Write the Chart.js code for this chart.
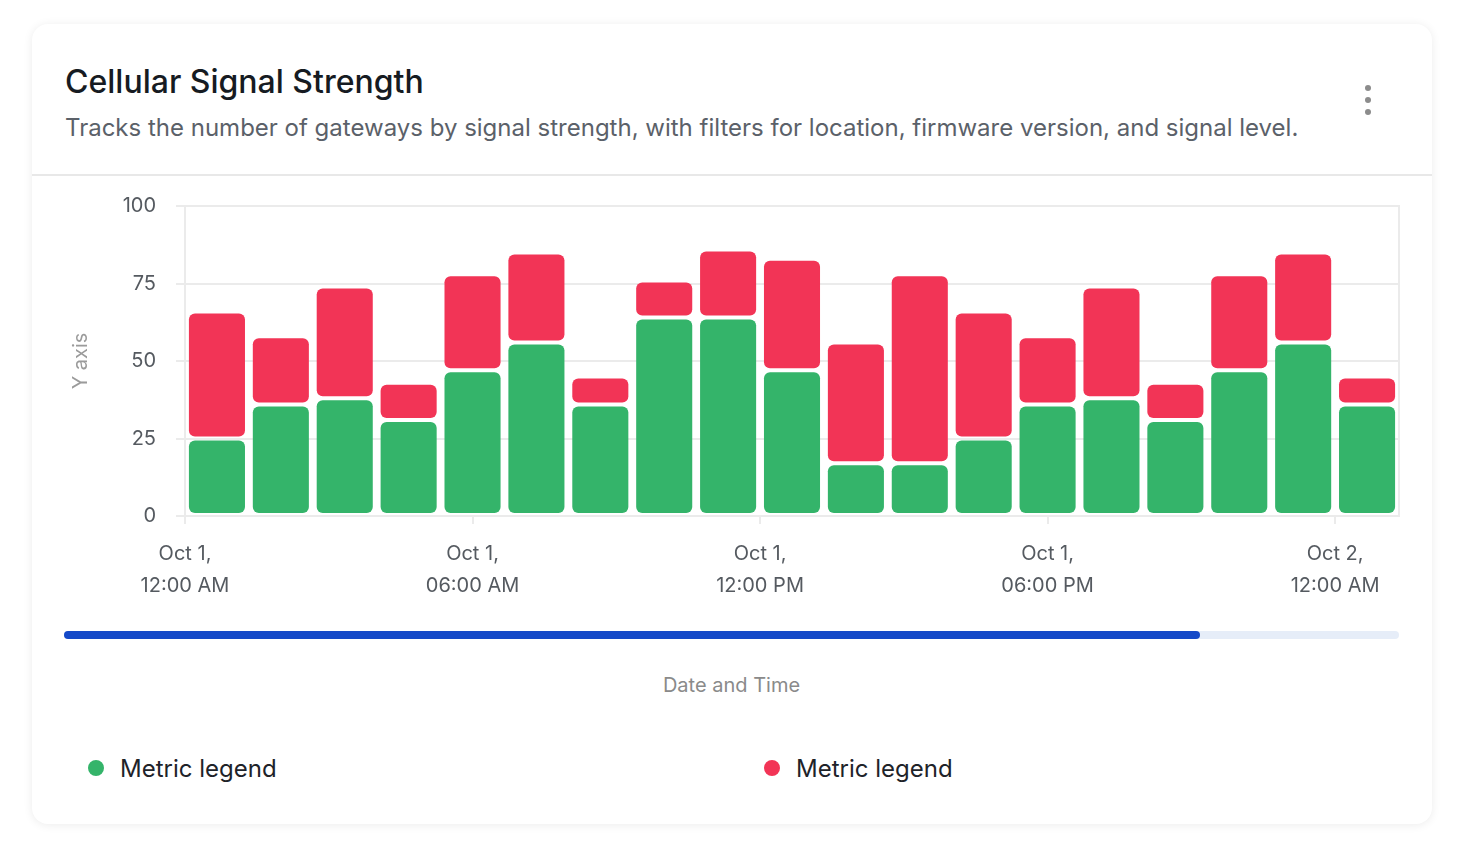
<!DOCTYPE html>
<html>
<head>
<meta charset="utf-8">
<script src="https://cdn.jsdelivr.net/npm/chart.js@4.4.1/dist/chart.umd.min.js"></script>
<style>
  html, body { margin: 0; padding: 0; background: #fff; }
  body { width: 1464px; height: 864px; position: relative; font-family: Inter, "Noto Sans", sans-serif; }
  .card {
    position: absolute; left: 32px; top: 24px; width: 1400px; height: 800px;
    background: #fff; border-radius: 16px;
    box-shadow: 0 1px 10px rgba(0, 0, 0, 0.08);
  }
  .title { position: absolute; left: 33px; top: 39px; font-size: 32px; line-height: 38px; font-weight: 500; color: #161b22; }
  .subtitle { position: absolute; left: 33px; top: 89px; font-size: 24px; line-height: 30px; color: #5b6169; }
  .divider { position: absolute; left: 0; right: 0; top: 150px; height: 2px; background: #e8e8e8; }
  .kebab { position: absolute; left: 1333px; top: 61px; width: 6px; }
  .kebab span { display: block; width: 6px; height: 6px; border-radius: 50%; background: #8c8c8c; margin-bottom: 6px; }
  .chart-wrap { position: absolute; left: 8px; top: 150px; width: 1390px; height: 437px; }
  .slider { position: absolute; left: 32px; top: 607px; width: 1335px; height: 8px; border-radius: 4px; background: #e6edf8; }
  .slider div { width: 1136px; height: 8px; border-radius: 4px; background: #1449c8; }
  .x-title { position: absolute; left: 32px; width: 1335px; top: 648px; text-align: center; font-size: 20px; line-height: 26px; color: #8a8a8a; }
  .legend-item { position: absolute; top: 728px; height: 32px; display: flex; align-items: center; font-size: 24px; color: #1e2329; }
  .legend-item i { display: inline-block; width: 16px; height: 16px; border-radius: 50%; margin-right: 16px; }
</style>
</head>
<body>
<div class="card">
  <div class="title">Cellular Signal Strength</div>
  <div class="subtitle">Tracks the number of gateways by signal strength, with filters for location, firmware version, and signal level.</div>
  <div class="kebab"><span></span><span></span><span></span></div>
  <div class="divider"></div>
  <div class="chart-wrap"><canvas id="signalChart"></canvas></div>
  <div class="slider"><div></div></div>
  <div class="x-title">Date and Time</div>
  <div class="legend-item" style="left:56px"><i style="background:#34b46a"></i><span id="legendGood"></span></div>
  <div class="legend-item" style="left:732px"><i style="background:#f23456"></i><span id="legendBad"></span></div>
</div>

<script>
// bucket start times, "day HH:MM" (day 1 = Oct 1)
const bucketTimes = [
  '1 00:40', '1 02:00', '1 03:20', '1 04:40', '1 06:00', '1 07:20', '1 08:40',
  '1 10:00', '1 11:20', '1 12:40', '1 14:00', '1 15:20', '1 16:40', '1 18:00',
  '1 19:20', '1 20:40', '1 22:00', '1 23:20', '2 00:40'
];
const rangeStart = '1 00:00';
const rangeEnd = '2 01:20';

const seriesNames = ['Metric legend', 'Metric legend'];
const goodSignal = [25, 36, 38, 31, 47, 56, 36, 64, 64, 47, 17, 17, 25, 36, 38, 31, 47, 56, 36];
const weakSignal = [41, 22, 36, 12, 31, 29, 9, 12, 22, 36, 39, 61, 41, 22, 36, 12, 31, 29, 9];

const yTicks = [0, 25, 50, 75, 100];
const xTickLabels = [
  ['Oct 1,', '12:00 AM'],
  ['Oct 1,', '06:00 AM'],
  ['Oct 1,', '12:00 PM'],
  ['Oct 1,', '06:00 PM'],
  ['Oct 2,', '12:00 AM']
];

// hours since Oct 1, 00:00
function toHours(stamp) {
  const [day, hm] = stamp.split(' ');
  const [h, m] = hm.split(':').map(Number);
  return (Number(day) - 1) * 24 + h + m / 60;
}

const xs = bucketTimes.map(toHours);
const GREEN = '#34b46a';
const RED = '#f23456';
const GRID = '#ebebeb';
const TICK_COLOR = '#555a60';

document.getElementById('legendGood').textContent = seriesNames[0];
document.getElementById('legendBad').textContent = seriesNames[1];

const barStyle = {
  borderWidth: 2,
  borderColor: 'rgba(0,0,0,0)',
  borderSkipped: false,
  borderRadius: { topLeft: 8, topRight: 8, bottomLeft: 8, bottomRight: 8 },
  categoryPercentage: 1,
  barPercentage: 0.94
};

const ctx = document.getElementById('signalChart').getContext('2d');
const signalChart = new Chart(ctx, {
  type: 'bar',
  data: {
    datasets: [
      Object.assign({
        label: seriesNames[0],
        data: xs.map((x, i) => ({ x: x, y: goodSignal[i] })),
        backgroundColor: GREEN
      }, barStyle),
      Object.assign({
        label: seriesNames[1],
        data: xs.map((x, i) => ({ x: x, y: weakSignal[i] })),
        backgroundColor: RED
      }, barStyle)
    ]
  },
  options: {
    responsive: true,
    maintainAspectRatio: false,
    animation: false,
    layout: { padding: { left: 25, right: 31, top: 0, bottom: 0 } },
    plugins: {
      legend: { display: false },
      tooltip: { enabled: false }
    },
    scales: {
      x: {
        type: 'linear',
        stacked: true,
        offset: false,
        min: toHours(rangeStart),
        max: toHours(rangeEnd),
        afterBuildTicks: (scale) => {
          scale.ticks = xTickLabels.map((_, i) => ({ value: i * 6 }));
        },
        afterFit: (scale) => { scale.height = 95; },
        ticks: {
          autoSkip: false,
          maxRotation: 0,
          includeBounds: false,
          padding: 14,
          color: TICK_COLOR,
          font: { family: 'Inter', size: 20, lineHeight: 1.6 },
          callback: (value) => xTickLabels[Math.round(value / 6)]
        },
        grid: { offset: false, drawOnChartArea: false, color: GRID, lineWidth: 2, tickLength: 8 },
        border: { display: true, color: GRID, width: 2 }
      },
      y: {
        stacked: true,
        min: 0,
        max: 100,
        afterBuildTicks: (scale) => {
          scale.ticks = yTicks.map(v => ({ value: v }));
        },
        afterFit: (scale) => { scale.width = 120; },
        ticks: {
          padding: 20,
          color: TICK_COLOR,
          font: { family: 'Inter', size: 20 }
        },
        grid: { color: GRID, lineWidth: 2, tickLength: 9 },
        border: { display: true, color: GRID, width: 2 },
        title: {
          display: true,
          text: 'Y axis',
          color: '#9b9b9b',
          font: { family: 'Inter', size: 20 }
        }
      },
      yRight: {
        position: 'right',
        min: 0,
        max: 100,
        ticks: { display: false },
        grid: { drawOnChartArea: false, drawTicks: false },
        border: { display: true, color: GRID, width: 2 },
        afterFit: (scale) => { scale.width = 0; }
      }
    }
  }
});
</script>
</body>
</html>
